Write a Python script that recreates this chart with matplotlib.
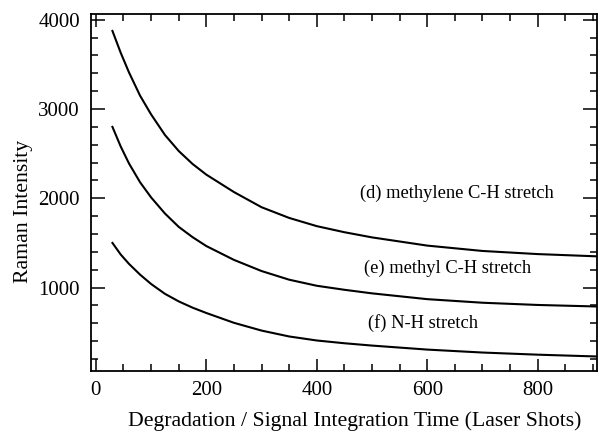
import numpy as np
import matplotlib.pyplot as plt
from matplotlib.ticker import MultipleLocator

# Tiempo de degradación (disparos de láser) e intensidades Raman leídas
disparos = [30, 45, 60, 80, 100, 125, 150, 175, 200, 250, 300, 350, 400,
            450, 500, 600, 700, 800, 906]
metileno = [3875, 3630, 3410, 3150, 2940, 2710, 2530, 2385, 2265, 2070, 1900,
            1780, 1688, 1620, 1562, 1470, 1410, 1375, 1350]
metilo = [2800, 2580, 2390, 2180, 2010, 1830, 1680, 1565, 1465, 1310, 1185,
          1088, 1020, 975, 935, 870, 830, 805, 788]
nh = [1500, 1370, 1265, 1145, 1040, 930, 845, 775, 715, 605, 518, 452, 407,
      376, 350, 305, 272, 248, 228]

etiquetas = ['(d) methylene C-H stretch', '(e) methyl C-H stretch', '(f) N-H stretch']
pos_etiquetas = [(654, 2050), (637, 1210), (592, 604)]

plt.rcParams['font.family'] = ['Liberation Serif', 'DejaVu Serif']

fig = plt.figure(figsize=(5.98, 4.37), dpi=100)
ax = fig.add_axes([0.152, 0.151, 0.846, 0.816])

for serie in (metileno, metilo, nh):
    ax.plot(disparos, serie, color='black', linewidth=1.5)

for texto, (xt, yt) in zip(etiquetas, pos_etiquetas):
    ax.text(xt, yt, texto, ha='center', va='center', fontsize=13.3)

ax.set_xlim(-9, 907)
ax.set_ylim(65, 4060)
ax.xaxis.set_major_locator(MultipleLocator(200))
ax.xaxis.set_minor_locator(MultipleLocator(50))
ax.yaxis.set_major_locator(MultipleLocator(1000))
ax.yaxis.set_minor_locator(MultipleLocator(200))
ax.tick_params(which='both', direction='in', top=True, right=True,
               width=1.1, labelsize=15)
ax.tick_params(axis='y', which='major', length=10, pad=8)
ax.tick_params(axis='x', which='major', length=9, pad=7)
ax.tick_params(which='minor', length=5)
for lado in ax.spines.values():
    lado.set_linewidth(1.3)

ax.set_xlabel('Degradation / Signal Integration Time (Laser Shots)', fontsize=15.7,
              labelpad=8, x=0.522)
ax.set_ylabel('Raman Intensity', fontsize=15.7, labelpad=4, y=0.447)

plt.savefig('out.png', dpi=100)
